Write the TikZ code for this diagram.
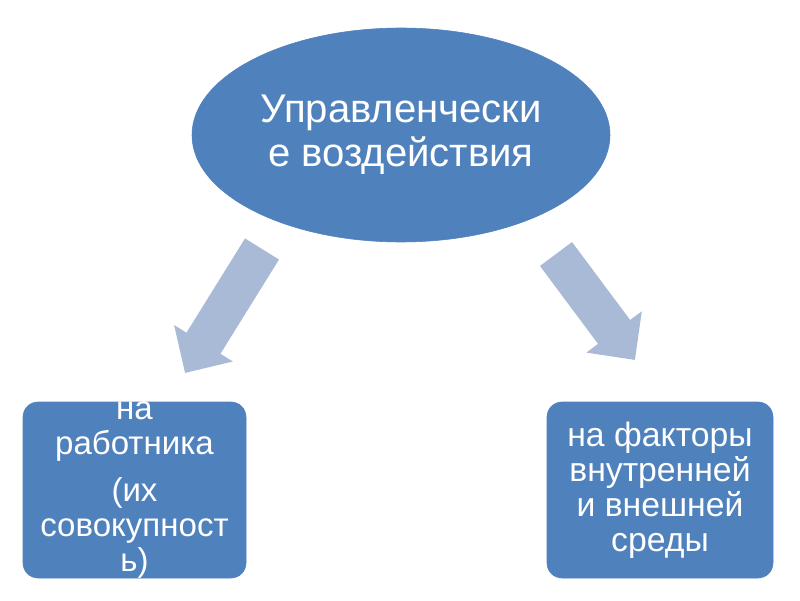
\documentclass[tikz,border=0pt]{standalone}
\usepackage{fontspec}
\setmainfont{Liberation Sans}
\usetikzlibrary{positioning,shapes.geometric,arrows.meta}
\definecolor{impactblue}{RGB}{79,129,189}
\definecolor{impactpale}{RGB}{168,186,214}

\begin{document}
\begin{tikzpicture}[every node/.style={align=center,text=white},
  mainoval/.style={ellipse,fill=impactblue,draw=impactblue,inner sep=0pt,
    minimum width=10.45cm,minimum height=5.35cm,font=\fontsize{28.5}{31}\selectfont},
  targetbox/.style={rectangle,rounded corners=0.375cm,fill=impactblue,draw=impactblue,
    inner sep=0pt,minimum height=4.4cm,font=\fontsize{24}{25}\selectfont},
  flowarrow/.style={impactpale,line width=1cm,-{Triangle[length=0.875cm,width=1.675cm]}}]
\useasboundingbox (0,0) rectangle (20,15);
\node[mainoval] (impact) at (10.025,11.625) {Управленчески\\е воздействия};
\node[targetbox,minimum width=5.575cm,
  label={[font=\fontsize{23.5}{25}\selectfont]center:на\\работника\\[0.3cm](их\\совокупност\\ь)}]
  (worker) at (3.3625,2.75) {};
\node[targetbox,minimum width=5.65cm] (factors) at (16.5,2.75)
  {на факторы\\внутренней\\и внешней\\среды};
% block arrows
\coordinate (lefttail) at (6.55,8.775);
\coordinate (lefttip) at (4.625,5.675);
\coordinate (righttail) at (13.9,8.65);
\coordinate (righttip) at (15.875,6.0);
\draw[flowarrow] (lefttail) -- (lefttip);
\draw[flowarrow] (righttail) -- (righttip);
\end{tikzpicture}
\end{document}
